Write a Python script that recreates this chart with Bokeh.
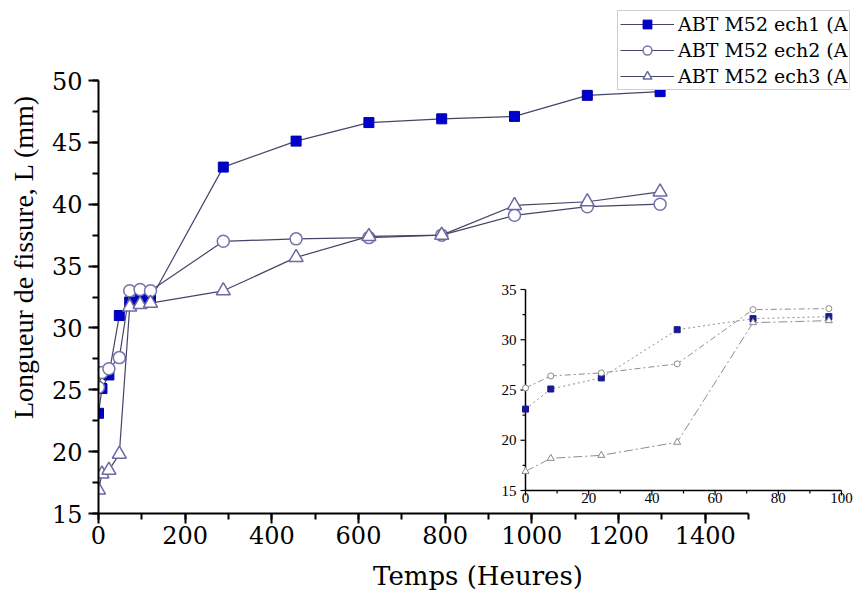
from math import pi
from bokeh.plotting import figure
from bokeh.models import Range1d, Legend, LegendItem, SingleIntervalTicker
from bokeh.embed import file_html
from bokeh.resources import INLINE
from bokeh.core.properties import value

# ---------------- data ----------------
hours = [0, 8, 24, 48, 72, 96, 120, 288, 456, 624, 792, 960, 1128, 1296]
ech1 = [23.1, 25.1, 26.2, 31.0, 32.1, 32.3, 32.3, 43.0, 45.1, 46.6, 46.9, 47.1, 48.8, 49.1]
ech2 = [25.2, 26.4, 26.7, 27.6, 33.0, 33.1, 33.0, 37.0, 37.2, 37.3, 37.5, 39.1, 39.8, 40.0]
ech3 = [16.9, 18.2, 18.5, 19.8, 31.7, 31.9, 32.0, 33.0, 35.7, 37.4, 37.5, 39.9, 40.2, 41.0]
labels = ["ABT M52 ech1 (A", "ABT M52 ech2 (A", "ABT M52 ech3 (A"]

inset_n = 6  # points shown in the inset (0-96 h)
inset_xticks = [0, 20, 40, 60, 80, 100]
inset_xminor = [10, 30, 50, 70, 90]
inset_yticks = [15, 20, 25, 30, 35]
inset_yminor = [17.5, 22.5, 27.5, 32.5]

# ---------------- layout ----------------
W, H = 857, 599
BL, BB = 98, 86
FWd, FHt = W - BL, H - BB
pxh = 650 / 1500.0
pxu = 433 / 35.0
x_end = FWd / pxh
y_end = 50 + (FHt - 433) / pxu

# inset frame position inside main frame (px from frame left / bottom)
ix0, ix1, iy0, iy1 = 427, 743, 23, 224
ipx = (ix1 - ix0) / 100.0
ipy = (iy1 - iy0) / 20.0

SERIF = "Liberation Serif"
WIDE = "DejaVu Serif"

p = figure(width=W, height=H, output_backend="svg", toolbar_location=None,
           x_range=Range1d(0, x_end), y_range=Range1d(15, y_end),
           min_border_left=BL, min_border_bottom=BB, min_border_right=0, min_border_top=0)
p.extra_x_ranges = {"ix": Range1d(-ix0 / ipx, 100 + (FWd - ix1) / ipx)}
p.extra_y_ranges = {"iy": Range1d(15 - iy0 / ipy, 35 + (FHt - iy1) / ipy)}

p.outline_line_color = None
p.xgrid.visible = False
p.ygrid.visible = False
p.background_fill_color = "white"

p.xaxis.ticker = SingleIntervalTicker(interval=200, num_minor_ticks=2)
p.yaxis.ticker = SingleIntervalTicker(interval=5, num_minor_ticks=2)
p.xaxis.bounds = (0, 1500)
p.yaxis.bounds = (15, 50)
for ax in (p.xaxis[0], p.yaxis[0]):
    ax.axis_line_width = 2
    ax.axis_line_color = "black"
    ax.major_tick_line_width = 2
    ax.minor_tick_line_width = 2
    ax.major_tick_out = 10
    ax.major_tick_in = 0
    ax.minor_tick_out = 6
    ax.minor_tick_in = 0
    ax.major_label_text_font = WIDE
    ax.major_label_text_font_size = "24px"
    ax.major_label_text_color = "black"
    ax.axis_label_text_font_style = "normal"
    ax.axis_label_text_color = "black"
p.xaxis.axis_label = "Temps (Heures)"
p.yaxis.axis_label = "Longueur de fissure, L (mm)"
p.xaxis.axis_label_text_font = WIDE
p.xaxis.axis_label_text_font_size = "26px"
p.yaxis.axis_label_text_font = SERIF
p.yaxis.axis_label_text_font_size = "28px"
p.xaxis.major_label_standoff = 2
p.yaxis.major_label_standoff = 6
p.xaxis.axis_label_standoff = 14
p.yaxis.axis_label_standoff = 10

LINE = "#45456a"
l1 = p.line(hours, ech1, line_color=LINE, line_width=1.2)
s1 = p.scatter(hours, ech1, marker="square", size=10, fill_color="#0000cc", line_color="#0000aa")
l2 = p.line(hours, ech2, line_color=LINE, line_width=1.2)
s2 = p.scatter(hours, ech2, marker="circle", size=12, fill_color="white", line_color="#7474aa", line_width=1.5)
l3 = p.line(hours, ech3, line_color=LINE, line_width=1.2)
s3 = p.scatter(hours, ech3, marker="triangle", size=14, fill_color="white", line_color="#6a6aa2", line_width=1.5)

# ---------------- inset ----------------
R = dict(x_range_name="ix", y_range_name="iy")
AX = "black"
p.segment(x0=[inset_xticks[0]], y0=[inset_yticks[0]], x1=[inset_xticks[-1]], y1=[inset_yticks[0]],
          line_color=AX, line_width=1.5, **R)
p.segment(x0=[inset_xticks[0]], y0=[inset_yticks[0]], x1=[inset_xticks[0]], y1=[inset_yticks[-1]],
          line_color=AX, line_width=1.5, **R)
p.ray(x=inset_xticks, y=[inset_yticks[0]] * len(inset_xticks), length=5, length_units="screen",
      angle=-pi / 2, line_color=AX, line_width=1.2, **R)
p.ray(x=inset_xminor, y=[inset_yticks[0]] * len(inset_xminor), length=3, length_units="screen",
      angle=-pi / 2, line_color=AX, line_width=1.2, **R)
p.ray(x=[inset_xticks[0]] * len(inset_yticks), y=inset_yticks, length=5, length_units="screen",
      angle=pi, line_color=AX, line_width=1.2, **R)
p.ray(x=[inset_xticks[0]] * len(inset_yminor), y=inset_yminor, length=3, length_units="screen",
      angle=pi, line_color=AX, line_width=1.2, **R)
p.text(x=inset_xticks, y=[inset_yticks[0]] * len(inset_xticks), text=[str(t) for t in inset_xticks],
       text_align="center", text_baseline="top", y_offset=2, text_font=value(SERIF),
       text_font_size="15px", text_color="black", **R)
p.text(x=[inset_xticks[0]] * len(inset_yticks), y=inset_yticks, text=[str(t) for t in inset_yticks],
       text_align="right", text_baseline="middle", x_offset=-9, text_font=value(SERIF),
       text_font_size="15px", text_color="black", **R)

GRAY = "#8e8e8e"
hx = hours[:inset_n]
p.line(hx, ech1[:inset_n], line_color=GRAY, line_width=1, line_dash="2 3", **R)
p.line(hx, ech2[:inset_n], line_color=GRAY, line_width=1, line_dash="6 3 2 3", **R)
p.line(hx, ech3[:inset_n], line_color=GRAY, line_width=1, line_dash="9 3 2 3", **R)
p.scatter(hx, ech1[:inset_n], marker="square", size=6, fill_color="#1a1a90", line_color="#1a1a90", **R)
p.scatter(hx, ech2[:inset_n], marker="circle", size=6, fill_color="white", line_color="#8a8a8a", **R)
p.scatter(hx, ech3[:inset_n], marker="triangle", size=7, fill_color="white", line_color="#8a8a8a", **R)

# ---------------- legend ----------------
leg = Legend(items=[LegendItem(label=labels[0], renderers=[l1, s1]),
                    LegendItem(label=labels[1], renderers=[l2, s2]),
                    LegendItem(label=labels[2], renderers=[l3, s3])],
             location=(519, FHt - 90), orientation="vertical",
             label_text_font=WIDE, label_text_font_size="19px", label_text_color="black",
             glyph_width=54, glyph_height=22, label_height=22, label_standoff=4, padding=2,
             spacing=4, margin=0,
             border_line_color="#a0a0a0", border_line_width=1, background_fill_color="white",
             background_fill_alpha=1.0)
p.add_layout(leg, "center")

open("out.html", "w").write(file_html(p, INLINE))
